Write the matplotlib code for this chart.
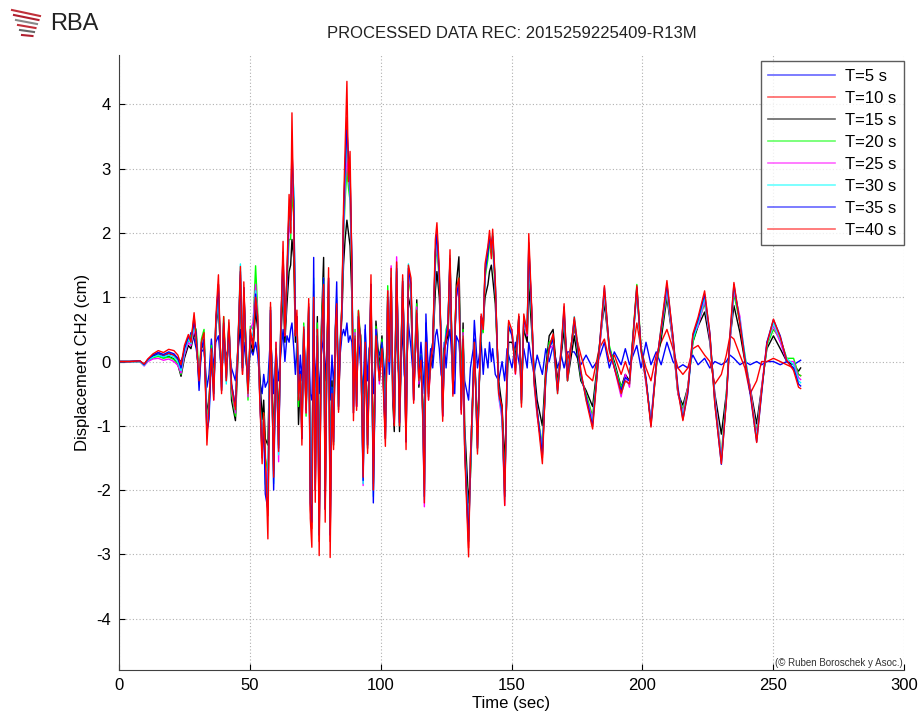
import numpy as np
import matplotlib
matplotlib.use("Agg")
import matplotlib.pyplot as plt
from matplotlib.lines import Line2D

plt.rcParams['font.family'] = ['Liberation Sans', 'DejaVu Sans']
plt.rcParams['axes.unicode_minus'] = False

title = "PROCESSED DATA REC: 2015259225409-R13M"
labels = ["T=5 s", "T=10 s", "T=15 s", "T=20 s", "T=25 s", "T=30 s", "T=35 s", "T=40 s"]
colors = ["#0000ff", "#ff0000", "#000000", "#00ff00", "#ff00ff", "#00ffff", "#0000ff", "#ff0000"]
xticks = [0, 50, 100, 150, 200, 250, 300]
yticks = [-4, -3, -2, -1, 0, 1, 2, 3, 4]

t = [0, 4, 8, 9.6, 11, 13, 15, 17, 19, 21, 22.5, 23.7, 25, 26.5, 27.5, 28.7, 29.5, 30.6,
     31.5, 32.5, 33.6, 34.4, 35.3, 36.2, 37, 38, 39.2, 40, 41, 42, 43, 44.5, 45.5, 46.4,
     47.2, 47.7, 48.5, 49.3, 50.2, 51.2, 52.2, 53, 53.8, 54.7, 55.3, 55.9, 56.9, 57.9,
     58.5, 59.1, 60, 61, 61.8, 62.7, 63.4, 64.2, 65, 65.6, 66.1, 66.8, 67.4, 68, 68.6,
     69.3, 69.9, 70.6, 71.5, 72.5, 73.1, 73.7, 74.4, 75, 75.8, 76.5, 77.3, 78.2, 78.8,
     79.4, 80.1, 80.7, 81.4, 82, 82.7, 83.2, 83.9, 84.5, 85.2, 85.8, 86.4, 87.1, 87.7,
     88.3, 89, 89.6, 90.2, 90.8, 91.5, 92.4, 93.3, 94.1, 95, 95.6, 96.3, 97.2, 98.2,
     99.5, 100.5, 101.8, 102.7, 103.3, 104, 104.6, 105.2, 106.1, 106.7, 107.2, 108.4,
     109, 109.7, 110.6, 111.6, 112.6, 113.8, 114.6, 115.4, 116.1, 116.7, 117.3, 118.3,
     119.1, 119.9, 120.9, 121.5, 122.4, 123.1, 123.7, 124.3, 125, 125.7, 126.5, 127.6,
     128.3, 128.9, 129.9, 130.8, 131.5, 132.1, 133.6, 134.3, 135.4, 135.8, 137, 138.4,
     139.2, 139.9, 141, 141.6, 142.3, 142.8, 143.8, 145.1, 146.4, 147.4, 148.3, 148.9,
     150.2, 151.5, 152.8, 153.8, 154.7, 156, 156.6, 157.7, 158.6, 159.8, 161.8, 163.1,
     164.4, 165.9, 167.6, 169, 170.1, 171.4, 174, 176.5, 178.5, 181, 183.5, 185.5,
     187.4, 189.3, 191.9, 193.5, 195.1, 197.9, 199.5, 201.4, 203.3, 205.3, 207.2, 209.4,
     211.7, 213.6, 215.5, 217.4, 219.3, 221.3, 223.8, 225.8, 227.7, 230.2, 232.1, 233.5,
     235, 237.3, 239.2, 241.2, 243.7, 245.6, 247.6, 250.1, 252.7, 255.2, 257.8, 259.7,
     260.5]

d40 = [0, 0, .01, -.04, .04, .12, .17, .14, .19, .17, .1, -.05, .25, .42, .3, .76, .35, -.3,
       .3, .45, -1.3, -.7, .2, -.6, .68, 1.35, -.5, .7, -.3, .65, -.4, -.75, .3, 1.48,
       -.2, 1.24, .2, -.5, .5, .2, 1.0, .7, -.6, -1.59, -.8, -1.4, -2.76, .92,
       -.5, -1.8, .3, -1.4, .5, 1.87, .4, 1.43, 2.6, 2.0, 3.87, 2.13, .4, .8, -.6,
       -.2, -1.3, .54, -.8, .98, -2.44, -2.89, 1.0, -2.19, .5, -3.02, .3, 1.2, -2.5,
       0.0, 1.46, -3.05, -.5, -1.37, .5, .9, -.79, .2, .92, 2.4, 3.3, 4.36, 2.8,
       3.27, 1.43, -.92, .4, -.76, .79, .24, -1.8, .3, -1.43, -.2, 1.35, -2.0, .4,
       -.3, .2, -1.32, 1.1, 0.0, 1.45, -.4, -1.0, 1.55, .2, -1.0, 1.35,
       .2, -1.37, 1.5, 1.3, -.65, .8, -.3, .02, -.87, -2.2, .3, -.6,
       0.0, .24, 1.9, 2.16, 1.46, .2, -.93, .1, .35, .5, 1.74, -.54,
       .3, 1.13, 1.3, -.82, .4, -1.4, -3.04, -1.5, -.3, .3, -1.44, .74,
       .5, 1.52, 1.8, 2.04, 1.7, 2.06, 1.26, -.5, -.71, -2.24, -.09, .64,
       .48, -.19, .74, -.71, .74, .43, 1.99, .85, -.3, -.81, -1.59, -.19,
       .22, .43, -.5, .2, .9, -.3, .69, -.14, -.6, -1.05, .17, 1.18,
       .17, -.09, -.5, -.3, -.35, 1.18, .17, -.3, -1.02, -.09, .53, 1.26,
       .38, -.45, -.92, -.45, .43, .69, 1.1, .43, -.66, -1.59, -.61, .43,
       1.23, .59, .02, -.45, -1.26, -.45, .27, .66, .38, .02, -.14, -.4,
       -.42]

d35 = [0, 0, .01, -.05, .03, .1, .14, .11, .15, .12, .05, -.1, .2, .38, .35, .6, .45, -.45,
       .2, .35, -1.1, -.9, .1, -.5, .6, 1.2, -.45, .6, -.25, .55, -.35, -.7, .25, 1.4,
       -.15, 1.15, .25, -.45, .4, .3, 1.05, .6, -.5, -1.5, -.9, -2.06, -2.3, .8,
       -.4, -2.0, .2, -1.35, .45, 1.7, .5, 1.3, 2.4, 2.2, 3.3, 2.5, .6, .7, -.5,
       -.15, -1.2, .5, -.75, .85, -2.2, -2.5, 1.62, -2.0, .4, -2.7, .2, 1.3, -2.3,
       -.1, 1.3, -2.7, -.4, -1.25, .55, 1.24, -.7, .15, .85, 2.2, 3.0, 3.6, 3.2,
       2.9, 1.6, -.8, .35, -.7, .7, .3, -1.85, .57, -1.3, -.1, 1.2, -2.2, .5,
       -.25, .3, -1.2, 1.0, .1, 1.3, -.3, -.95, 1.45, .3, -.95, 1.25,
       .3, -1.25, 1.45, 1.2, -.6, .75, -.25, .1, -.8, -2.1, .74, -.5,
       .1, .3, 1.7, 2.0, 1.35, .3, -.85, .15, .4, .6, 1.6, -.5,
       .25, 1.0, 1.25, -.75, .35, -1.3, -2.8, -1.6, -.2, .35, -1.35, .7,
       .6, 1.4, 1.7, 1.9, 1.85, 1.95, 1.2, -.45, -.8, -2.1, -.2, .55,
       .4, -.1, .7, -.6, .65, .5, 1.8, .8, -.25, -.75, -1.45, -.25,
       .2, .35, -.45, .15, .85, -.25, .65, -.2, -.55, -1.0, .2, 1.15,
       .2, -.1, -.45, -.25, -.3, 1.15, .2, -.25, -1.0, -.05, .5, 1.2,
       .4, -.4, -.9, -.5, .4, .65, 1.05, .45, -.65, -1.6, -.6, .4,
       1.2, .6, .05, -.5, -1.25, -.5, .3, .65, .4, .0, -.1, -.35,
       -.38]

d30 = [0, 0, 0, -.06, .02, .07, .1, .07, .1, .07, 0, -.14, .15, .35, .28, .55, .4, -.35,
       .25, .4, -1.0, -.85, .15, -.55, .55, 1.1, -.4, .65, -.35, .6, -.4, -.75, .35, 1.52,
       -.1, 1.1, .2, -.5, .45, .4, 1.1, .65, -.55, -1.45, -.85, -1.9, -2.1, .85,
       -.45, -1.9, .25, -1.45, .5, 1.6, .45, 1.35, 2.3, 2.1, 3.0, 2.7, .5, .6, -.55,
       -.2, -1.15, .55, -.7, .8, -2.1, -2.4, 1.3, -1.9, .45, -2.6, .25, 1.25, -2.2,
       .05, 1.25, -2.6, -.45, -1.3, .5, 1.0, -.75, .2, .9, 2.1, 2.9, 3.4, 3.1,
       2.8, 1.5, -.75, .4, -.65, .75, .25, -1.9, .35, -1.35, -.15, 1.15, -2.1, .45,
       -.3, .25, -1.15, 1.05, .05, 1.4, -.35, -.9, 1.5, .25, -.9, 1.3,
       .25, -1.2, 1.52, 1.15, -.55, .8, -.3, .05, -.9, -2.15, .4, -.55,
       .05, .25, 1.65, 1.95, 1.4, .25, -.8, .1, .45, .55, 1.65, -.45,
       .3, 1.05, 1.2, -.7, .4, -1.35, -2.75, -1.55, -.25, .3, -1.4, .65,
       .55, 1.45, 1.75, 1.95, 1.8, 2.0, 1.25, -.5, -.85, -2.15, -.15, .6,
       .45, -.15, .65, -.65, .7, .45, 1.75, .75, -.3, -.8, -1.4, -.3,
       .25, .3, -.5, .2, .8, -.3, .7, -.15, -.6, -.95, .15, 1.1,
       .15, -.05, -.5, -.3, -.35, 1.1, .15, -.3, -.95, -.1, .55, 1.15,
       .35, -.45, -.85, -.45, .35, .6, 1.0, .4, -.6, -1.55, -.55, .35,
       1.15, .65, .1, -.45, -1.2, -.45, .25, .6, .35, .05, -.05, -.3,
       -.33]

d25 = [0, 0, 0, -.07, 0, .04, .05, .02, .04, 0, -.06, -.18, .1, .3, .25, .5, .35, -.3,
       .3, .35, -.9, -.8, .2, -.6, .6, 1.05, -.4, .6, -.3, .55, -.45, -.8, .3, 1.3,
       -.1, 1.05, .3, -.55, .5, .6, 1.2, .7, -.6, -1.4, -.9, -1.7, -1.9, .8,
       -.5, -1.75, .3, -1.56, .55, 1.5, .4, 1.25, 2.1, 2.0, 2.8, 2.5, .45, .55, -.6,
       -.25, -1.1, .5, -.8, .75, -2.0, -2.3, 1.2, -1.8, .5, -2.5, .3, 1.2, -2.1,
       0.0, 1.2, -2.5, -.5, -1.2, .45, .95, -.7, .25, .8, 2.0, 2.7, 3.2, 2.9,
       2.6, 1.4, -.7, .45, -.7, .7, .2, -1.93, .3, -1.3, -.2, 1.1, -2.0, .5,
       -.35, .2, -1.1, 1.1, 0.0, 1.49, -.4, -.95, 1.63, .2, -.95, 1.2,
       .3, -1.15, 1.4, 1.1, -.6, .85, -.35, 0.0, -.95, -2.26, .35, -.6,
       0.0, .2, 1.6, 1.9, 1.3, .2, -.85, .05, .4, .5, 1.55, -.5,
       .35, 1.0, 1.15, -.8, .45, -1.3, -2.7, -1.6, -.3, .25, -1.3, .7,
       .5, 1.35, 1.8, 1.9, 1.75, 1.9, 1.2, -.55, -.9, -2.24, -.1, .55,
       .5, -.2, .6, -.6, .65, .4, 1.7, .8, -.35, -.85, -1.35, -.25,
       .2, .25, -.45, .25, .75, -.25, .65, -.2, -.55, -.9, .1, 1.05,
       .2, -.1, -.55, -.2, -.4, 1.15, .2, -.35, -.9, -.05, .5, 1.1,
       .3, -.5, -.8, -.4, .4, .55, .95, .35, -.55, -1.5, -.6, .3,
       1.1, .7, .05, -.4, -1.15, -.4, .3, .55, .3, 0.0, 0.0, -.25,
       -.28]

d20 = [0, 0, 0, -.06, .01, .06, .08, .05, .07, .03, -.04, -.2, .12, .32, .4, .55, .5, -.2,
       .35, .5, -.85, -.7, .25, -.45, .62, 1.0, -.35, .7, -.25, .6, -.5, -.85, .3, 1.2,
       -.05, 1.0, .35, -.6, .55, .5, 1.49, .8, -.5, -1.3, -.8, -1.5, -1.7, .75,
       -.45, -1.6, .25, -1.3, .5, 1.4, .5, 1.2, 1.9, 1.9, 2.6, 2.3, .5, .5, -.7,
       -.2, -1.0, .6, -.85, .8, -1.9, -2.2, 1.1, -1.7, .6, -2.3, .4, 1.3, -2.0,
       .1, 1.1, -2.3, -.4, -1.1, .5, .9, -.65, .3, .85, 1.9, 2.5, 3.0, 2.7,
       2.5, 1.3, -.6, .5, -.6, .8, .3, -1.75, .35, -1.2, -.1, 1.0, -1.9, .55,
       -.2, .35, -1.0, 1.18, .1, 1.3, -.3, -.9, 1.4, .3, -.85, 1.15,
       .35, -1.1, 1.3, 1.05, -.5, .9, -.25, .1, -.8, -1.9, .4, -.5,
       .05, .3, 1.5, 1.8, 1.25, .3, -.75, .15, .5, .6, 1.5, -.4,
       .4, 1.1, 1.3, -.65, .5, -1.2, -2.6, -1.7, -.2, .3, -1.2, .6,
       .45, 1.3, 1.6, 1.85, 1.7, 1.8, 1.1, -.5, -.8, -2.0, -.2, .5,
       .45, -.1, .7, -.55, .6, .5, 1.6, .7, -.25, -.8, -1.3, -.2,
       .3, .35, -.4, .2, .7, -.2, .6, -.25, -.5, -.85, .2, 1.0,
       .25, -.05, -.4, -.25, -.3, 1.2, .25, -.3, -.95, -.1, .45, 1.05,
       .35, -.5, -.75, -.4, .3, .6, .9, .4, -.6, -1.45, -.55, .35,
       1.05, .6, .1, -.45, -1.1, -.45, .25, .5, .35, .05, .05, -.2,
       -.22]

d15 = [0, 0, 0, -.05, .02, .08, .1, .06, .08, .04, -.05, -.23, .05, .25, .2, .45, .3, -.25,
       .2, .3, -.8, -.6, .05, -.4, .5, .9, -.3, .5, -.2, .45, -.6, -.92, .1, 1.0,
       -.1, .85, .1, -.4, .3, .15, .8, .5, -.2, -.9, -.6, -1.2, -1.3, .6,
       -.3, -1.2, .1, -.9, .3, 1.1, .3, .9, 1.4, 1.5, 1.9, 1.6, .3, .4, -.98,
       -.3, -.8, .3, -.6, .6, -1.6, -1.8, .8, -1.5, .7, -1.9, .5, 1.62, -1.7,
       .2, .9, -1.8, -.3, -.9, .4, .8, -.5, .2, .7, 1.5, 1.9, 2.2, 2.0,
       1.8, 1.0, -.4, .3, -.5, .6, .4, -1.4, .2, -1.0, 0.0, .8, -1.5, .63,
       -.1, .4, -.8, .9, .2, 1.0, -.6, -1.09, 1.1, .1, -1.09, .9,
       .2, -.8, 1.0, .8, -.4, .96, -.4, -.1, -.6, -1.5, .2, -.4,
       -.1, .15, 1.1, 1.4, 1.0, .4, -.6, .2, .3, .4, 1.2, -.3,
       .2, 1.2, 1.63, -.5, .6, -1.0, -2.2, -1.8, -.4, .1, -1.0, .4,
       .6, 1.0, 1.2, 1.4, 1.5, 1.3, .9, -.3, -.7, -1.6, -.4, .3,
       .3, .1, .6, -.3, .5, .3, 1.2, .5, -.1, -.6, -1.0, -.1,
       .4, .5, -.35, .1, .5, -.3, .4, -.3, -.45, -.7, .2, .9,
       .2, 0.0, -.4, -.2, -.3, 1.1, .2, -.3, -.95, -.05, .35, 1.0,
       .3, -.5, -.68, -.4, .3, .55, .77, .3, -.5, -1.13, -.5, .35,
       .87, .45, 0.0, -.4, -.97, -.4, .2, .4, .2, 0.0, -.05, -.15,
       -.1]

d10 = [0, 0, .01, -.05, .03, .1, .14, .1, .13, .1, .03, -.1, .2, .38, .3, .7, .4, -.35,
       .25, .4, -1.1, -.75, .15, -.5, .6, 1.2, -.45, .6, -.3, .55, -.35, -.7, .3, 1.35,
       -.2, 1.15, .2, -.45, .45, .25, .9, .6, -.55, -1.4, -.8, -1.5, -2.4, .85,
       -.45, -1.7, .25, -1.3, .45, 1.7, .4, 1.3, 2.4, 2.0, 3.4, 2.2, .4, .7, -.55,
       -.2, -1.2, .5, -.75, .9, -2.3, -2.6, 1.0, -2.0, .4, -2.8, .2, 1.1, -2.3,
       0.0, 1.3, -2.8, -.45, -1.3, .45, .85, -.75, .15, .9, 2.2, 3.0, 3.8, 2.8,
       3.0, 1.4, -.8, .35, -.7, .7, .2, -1.7, .3, -1.35, -.2, 1.2, -1.9, .4,
       -.3, .2, -1.2, 1.0, 0.0, 1.3, -.35, -.9, 1.4, .2, -.9, 1.25,
       .2, -1.25, 1.35, 1.2, -.6, .75, -.3, 0.0, -.8, -2.0, .3, -.55,
       0.0, .2, 1.7, 2.0, 1.3, .2, -.85, .1, .35, .5, 1.6, -.5,
       .3, 1.05, 1.2, -.75, .35, -1.3, -2.9, -1.5, -.3, .3, -1.35, .7,
       .5, 1.4, 1.7, 1.9, 1.6, 1.9, 1.2, -.45, -.7, -2.1, -.1, .6,
       .45, -.15, .7, -.65, .7, .4, 1.85, .8, -.3, -.75, -1.5, -.2,
       .2, .4, -.3, .15, .6, 0.0, .5, .1, -.2, -.3, .2, .35,
       0.0, .1, -.2, 0.0, -.2, .6, .2, -.1, -.3, .1, .3, .5,
       .2, -.1, -.2, -.1, .2, .25, .1, 0.0, -.35, -.2, .1, .4,
       .35, .1, -.1, -.5, -.3, 0.0, 0.0, .05, 0.0, -.05, -.1, -.2,
       -.22]

d05 = [0, 0, 0, -.04, .02, .09, .12, .09, .12, .1, .05, 0, .15, .3, .45, .35, .2, -.15,
       .15, .2, -.4, -.2, .35, -.1, .3, .4, -.2, .3, .1, .2, -.1, -.3, .2, .5,
       -.1, .3, 0, -.2, .2, .1, .3, .1, -.3, -.5, -.2, -.4, -.3, .4,
       0, -.5, .2, -.3, .1, .5, 0, .4, .3, .5, .6, .2, -.2, .3, -.4,
       .1, -.3, .4, -.2, .3, -.5, -.6, .5, -.4, .3, -.5, .1, .4, -.3,
       .2, .4, -.6, .1, -.4, .2, .5, -.3, .1, .4, .5, .4, .6, .3,
       .4, .3, -.3, .2, -.2, .4, -.1, -.5, .5, -.3, .2, .3, -.5, .3,
       .1, .3, -.3, .4, -.2, .5, -.2, -.4, .6, -.1, -.3, .5,
       -.2, -.4, .6, .2, -.3, .5, -.2, .3, -.1, -.5, .6, -.2,
       .2, -.1, .4, .5, .2, -.2, -.3, .3, -.1, .3, .5, -.2,
       -.5, .4, .3, -.2, .3, -.3, -.6, -.1, .2, .64, -.1, .3,
       -.2, .2, -.1, .3, 0.0, .2, -.2, -.3, 0.0, -.3, .2, .1,
       -.1, .3, 0.0, -.2, .2, -.1, .3, 0.0, -.2, .1, -.2, .2,
       0.0, .25, -.1, .1, -.1, .15, .15, -.05, .1, -.1, .05, .3,
       -.1, .15, -.05, .2, -.05, .25, -.1, .3, -.05, .15, -.05, .3,
       0.0, -.1, -.05, -.1, .1, -.05, .05, -.1, 0.0, -.05, 0.0, .1,
       .05, -.05, 0.0, -.05, 0.0, -.05, 0.0, 0.0, -.05, 0.0, -.05, 0.0,
       .02]

series = [d05, d10, d15, d20, d25, d30, d35, d40]
for name, s in zip(labels, series):
    assert len(s) == len(t), (name, len(s), len(t))

W, H = 919, 722
fig = plt.figure(figsize=(W / 100, H / 100), dpi=100)
ax = fig.add_axes([119 / W, 52 / H, 785 / W, 615 / H])

for s, c, lab in zip(series, colors, labels):
    ax.plot(t, s, color=c, lw=1.0, label=lab)

ax.set_xlim(0, 300)
ax.set_ylim(-4.8, 4.77)
ax.set_xticks(xticks)
ax.set_yticks(yticks)
ax.tick_params(direction='in', labelsize=12, length=4, pad=6)
ax.grid(True, linestyle=(0, (1, 2)), color='#b0b0b0', lw=0.8)
for sp in ['top', 'right']:
    ax.spines[sp].set_visible(False)
for sp in ['left', 'bottom']:
    ax.spines[sp].set_color('#404040')
ax.set_xlabel("Time (sec)", fontsize=12, labelpad=2)
ax.set_ylabel("Displacement CH2 (cm)", fontsize=12, labelpad=4)
ax.set_title(title, fontsize=12, pad=12, color='#222222')

handles = [Line2D([0], [0], color=c, lw=1.2, alpha=0.6) for c in colors]
leg = ax.legend(handles, labels, loc='upper right', bbox_to_anchor=(1.0, 0.99),
                fontsize=12, frameon=True, fancybox=False, edgecolor='#333333',
                handlelength=4.0, handletextpad=0.6, labelspacing=0.42,
                borderpad=0.45, borderaxespad=0.0)
leg.get_frame().set_linewidth(1.0)

ax.text(0.998, 0.003, "(© Ruben Boroschek y Asoc.)", transform=ax.transAxes,
        ha='right', va='bottom', fontsize=7, color='#333333')

# RBA logo
fig.text(50 / W, 1 - 24 / H, "RBA", fontsize=17, color='#222222', va='center', ha='left')
for i, (col, yy) in enumerate([('#c0303a', 14), ('#b02030', 18), ('#888888', 22),
                               ('#c0303a', 26), ('#666666', 30), ('#b02030', 34)]):
    xs = np.array([12 + i * 2, 40 - i * 1.5]) / W
    ys = 1 - np.array([yy - 4 + i, yy + 2]) / H
    fig.add_artist(Line2D(xs, ys, color=col, lw=1.5, transform=fig.transFigure))

fig.savefig("out.png", dpi=100)
